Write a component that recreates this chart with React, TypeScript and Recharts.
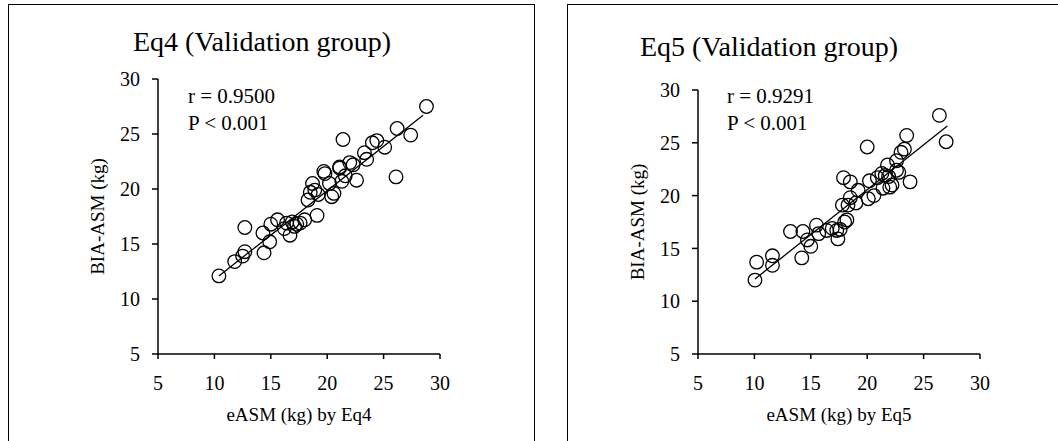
import React from 'react'
import { ScatterChart, Scatter, XAxis, YAxis } from 'recharts'

// BIA-ASM vs eASM, validation group
const eq4X = [10.4, 11.8, 12.5, 12.7, 12.7, 14.3, 14.4, 14.9, 15.0, 15.6, 16.2, 16.4, 16.7, 16.9, 17.1, 17.3, 17.6, 18.0, 18.3, 18.5, 18.7, 18.9, 19.1, 19.2, 19.8, 19.7, 20.4, 20.2, 20.6, 21.1, 21.1, 21.3, 21.4, 21.6, 22.0, 22.3, 22.6, 23.3, 23.5, 24.0, 24.4, 25.1, 26.2, 26.1, 27.4, 28.8]
const eq4Y = [12.1, 13.4, 13.9, 14.3, 16.5, 16.0, 14.2, 15.2, 16.8, 17.2, 16.4, 16.9, 15.8, 17.0, 16.6, 16.8, 16.9, 17.2, 19.0, 19.7, 20.5, 19.9, 17.6, 19.5, 21.4, 21.6, 19.3, 20.5, 19.6, 21.9, 22.0, 20.7, 24.5, 21.2, 22.4, 22.2, 20.8, 23.3, 22.7, 24.2, 24.4, 23.8, 25.5, 21.1, 24.9, 27.5]
const eq4TrendX = [10.4, 28.5]
const eq4TrendY = [12.1, 26.7]

const eq5X = [10.05, 10.2, 11.6, 11.6, 13.2, 14.3, 14.2, 15.0, 14.7, 15.5, 15.7, 16.4, 16.9, 17.4, 17.3, 17.6, 18.0, 18.2, 17.8, 18.3, 18.5, 17.9, 18.5, 19.2, 20.1, 20.0, 20.2, 20.6, 20.9, 21.3, 21.4, 21.6, 21.8, 22.0, 22.2, 22.6, 22.6, 23.0, 23.3, 23.5, 23.8, 22.8, 26.4, 27.0, 21.9, 19.0]
const eq5Y = [12.0, 13.7, 14.3, 13.4, 16.6, 16.6, 14.1, 15.2, 15.8, 17.2, 16.4, 16.7, 16.9, 15.9, 16.7, 16.8, 17.5, 17.7, 19.1, 19.1, 19.8, 21.7, 21.3, 20.5, 19.7, 24.6, 21.4, 20.0, 21.7, 22.1, 20.7, 21.9, 22.9, 20.8, 21.0, 22.4, 23.3, 24.1, 24.4, 25.7, 21.3, 22.2, 27.6, 25.1, 21.8, 19.3]
const eq5TrendX = [10.05, 27.1]
const eq5TrendY = [12.1, 26.6]

const axisTicks = [5, 10, 15, 20, 25, 30]

const FONT = '"Liberation Serif", "Times New Roman", serif'

const toPoints = (xs: number[], ys: number[]) => xs.map((x, i) => ({ x, y: ys[i] }))

const OpenCircle = (props: any) => (
  <circle cx={props.cx} cy={props.cy} r={6.8} fill='none' stroke='#000' strokeWidth={1.3} />
)
const NoDot = () => <g />

interface PanelProps {
  xs: number[]
  ys: number[]
  trendX: number[]
  trendY: number[]
  width: number
  margin: { top: number; right: number; bottom: number; left: number }
  xLabel: string
}

function Panel({ xs, ys, trendX, trendY, width, margin, xLabel }: PanelProps) {
  const tickStyle = { fill: '#000', fontSize: 20, fontFamily: FONT }
  return (
    <ScatterChart width={width} height={441} margin={margin}>
      <XAxis
        type='number'
        dataKey='x'
        domain={[5, 30]}
        ticks={axisTicks}
        axisLine={{ stroke: '#000', strokeWidth: 1.5 }}
        tickLine={{ stroke: '#000', strokeWidth: 1.5 }}
        tickSize={5}
        tickMargin={17}
        tick={tickStyle}
        height={67}
        label={{ value: xLabel, position: 'insideBottom', offset: 0, style: { fill: '#000', fontSize: 19, fontFamily: FONT } }}
      />
      <YAxis
        type='number'
        dataKey='y'
        domain={[5, 30]}
        ticks={axisTicks}
        axisLine={{ stroke: '#000', strokeWidth: 1.5 }}
        tickLine={{ stroke: '#000', strokeWidth: 1.5 }}
        tickSize={6}
        tickMargin={12}
        tick={tickStyle}
        width={70}
        label={{ value: 'BIA-ASM (kg)', angle: -90, position: 'insideLeft', offset: 9, style: { fill: '#000', fontSize: 19, fontFamily: FONT, textAnchor: 'middle' } }}
      />
      <Scatter data={toPoints(trendX, trendY)} line={{ stroke: '#000', strokeWidth: 1.3 }} shape={NoDot} isAnimationActive={false} />
      <Scatter data={toPoints(xs, ys)} shape={OpenCircle} isAnimationActive={false} />
    </ScatterChart>
  )
}

const textStyle: React.CSSProperties = { position: 'absolute', fontFamily: FONT, color: '#000', whiteSpace: 'nowrap', lineHeight: 1 }

export default function App() {
  return (
    <div style={{ position: 'fixed', left: 0, top: 0, width: 1058, height: 441, overflow: 'hidden', background: '#fff' }}>
      <div style={{ position: 'absolute', left: 8, top: 4, width: 525, height: 470, border: '1.5px solid #000' }} />
      <div style={{ position: 'absolute', left: 567, top: 4, width: 600, height: 470, border: '1.5px solid #000' }} />

      <div style={{ position: 'absolute', left: 0, top: 0 }}>
        <Panel xs={eq4X} ys={eq4Y} trendX={eq4TrendX} trendY={eq4TrendY} width={534}
          margin={{ top: 79, right: 94, bottom: 20, left: 88 }} xLabel='eASM (kg) by Eq4' />
      </div>
      <div style={{ position: 'absolute', left: 560, top: 0 }}>
        <Panel xs={eq5X} ys={eq5Y} trendX={eq5TrendX} trendY={eq5TrendY} width={498}
          margin={{ top: 90, right: 78, bottom: 20, left: 68 }} xLabel='eASM (kg) by Eq5' />
      </div>

      <div style={{ ...textStyle, left: 133, top: 28, fontSize: 28 }}>Eq4 (Validation group)</div>
      <div style={{ ...textStyle, left: 640, top: 33, fontSize: 28 }}>Eq5 (Validation group)</div>

      <div style={{ ...textStyle, left: 188, top: 86, fontSize: 21 }}>r = 0.9500</div>
      <div style={{ ...textStyle, left: 188, top: 113, fontSize: 21 }}>P &lt; 0.001</div>
      <div style={{ ...textStyle, left: 727, top: 86, fontSize: 21 }}>r = 0.9291</div>
      <div style={{ ...textStyle, left: 727, top: 113, fontSize: 21 }}>P &lt; 0.001</div>
    </div>
  )
}
